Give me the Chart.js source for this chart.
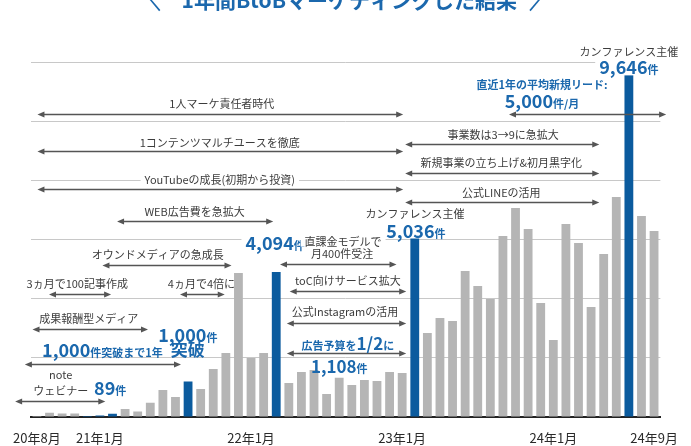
<!DOCTYPE html>
<html><head><meta charset="utf-8">
<script src="https://cdn.jsdelivr.net/npm/chart.js@4.4.1/dist/chart.umd.min.js"></script>
<style>html,body{margin:0;padding:0;background:#fff;}canvas{display:block;}</style>
</head><body>
<canvas id="c" width="691" height="446"></canvas>
<script>
// ---- data ----
const categories = [
 '20年8月','20年9月','20年10月','20年11月','20年12月',
 '21年1月','21年2月','21年3月','21年4月','21年5月','21年6月','21年7月','21年8月','21年9月','21年10月','21年11月','21年12月',
 '22年1月','22年2月','22年3月','22年4月','22年5月','22年6月','22年7月','22年8月','22年9月','22年10月','22年11月','22年12月',
 '23年1月','23年2月','23年3月','23年4月','23年5月','23年6月','23年7月','23年8月','23年9月','23年10月','23年11月','23年12月',
 '24年1月','24年2月','24年3月','24年4月','24年5月','24年6月','24年7月','24年8月','24年9月'
];
const leads = [
 30, 120, 100, 100, 30,
 40, 89, 226, 155, 404, 762, 564, 1000, 790, 1355, 1806, 4064,
 1665, 1806, 4094, 960, 1270, 1327, 650, 1108, 903, 1044, 1016, 1270,
 1242, 5036, 2371, 2794, 2710, 4121, 3697, 3330, 5109, 5899, 5306, 3218,
 2173, 5447, 4911, 3105, 4601, 6209, 9646, 5673, 5250
];
const highlighted = ['20年12月','21年1月','21年2月','21年8月','22年3月','23年2月','24年7月'];
const tickLabels = ['20年8月','21年1月','22年1月','23年1月','24年1月','24年9月'];
const titleText = '1年間BtoBマーケティングした結果';

// annotation arrows: x in category index units, y in lead units
const arrows = [
 {from:0.04, to:29.08, y:8551},
 {from:0.04, to:29.08, y:7515},
 {from:0.04, to:29.08, y:6434},
 {from:6.36, to:18.76, y:5523},
 {from:37.48, to:49.96, y:8551},
 {from:29.24, to:44.65, y:7696},
 {from:29.24, to:44.65, y:6894},
 {from:29.24, to:44.65, y:6059},
 {from:19.30, to:28.55, y:4318},
 {from:20.07, to:29.32, y:3556},
 {from:19.84, to:29.32, y:2661},
 {from:19.84, to:29.32, y:1815},
 {from:5.20, to:15.45, y:4289},
 {from:0.96, to:5.89, y:3471},
 {from:11.36, to:14.91, y:3471},
 {from:-0.35, to:8.82, y:2475},
 {from:-0.96, to:11.44, y:1487},
 {from:-1.73, to:5.43, y:452}
];
// annotation texts
const notes = [
 {x:47, y:10314, runs:[['カンファレンス主催',11]]},
 {x:47, y:9877, runs:[['9,646',18,1],['件',11,1]], blue:1, bg:1},
 {x:40.1, y:9369, runs:[['直近1年の平均新規リード:',11,1]], blue:1},
 {x:40.1, y:8917, runs:[['5,000',18,1],['件/月',11,1]], blue:1},
 {x:14.68, y:8833, runs:[['1人マーケ責任者時代',11]]},
 {x:14.52, y:7741, runs:[['1コンテンツマルチユースを徹底',11]]},
 {x:14.52, y:6702, runs:[['YouTubeの成長(初期から投資)',11]], bg:1},
 {x:12.52, y:5794, runs:[['WEB広告費を急拡大',11]]},
 {x:37.02, y:7958, runs:[['事業数は3→9に急拡大',11]]},
 {x:36.87, y:7159, runs:[['新規事業の立ち上げ&初月黒字化',11]]},
 {x:36.87, y:6330, runs:[['公式LINEの活用',11]]},
 {x:30.01, y:5729, runs:[['カンファレンス主催',11]]},
 {x:30.09, y:5229, runs:[['5,036',18,1],['件',11,1]], blue:1},
 {x:18.91, y:4910, runs:[['4,094',18,1],['件',11,1]], blue:1, bg:1},
 {x:24.31, y:4947, runs:[['直課金モデルで',11]], bg:1},
 {x:24.23, y:4600, runs:[['月400件受注',11]]},
 {x:24.69, y:3838, runs:[['toC向けサービス拡大',11]]},
 {x:24.46, y:2972, runs:[['公式Instagramの活用',11]]},
 {x:24.69, y:2060, runs:[['広告予算を',11,1],['1/2',17,1],['に',11,1]], blue:1},
 {x:24.0, y:1419, runs:[['1,108',17,1],['件',11,1]], blue:1},
 {x:9.59, y:4586, runs:[['オウンドメディアの急成長',11]]},
 {x:3.20, y:3753, runs:[['3ヵ月で100記事作成',11]]},
 {x:13.06, y:3753, runs:[['4ヵ月で4倍に',11]]},
 {x:4.12, y:2757, runs:[['成果報酬型メディア',11]]},
 {x:5.20, y:1891, runs:[['1,000',18,1],['件突破まで1年',11,1]], blue:1},
 {x:11.98, y:2314, runs:[['1,000',18,1],['件',11,1]], blue:1},
 {x:11.98, y:1891, runs:[['突破',17,1]], blue:1},
 {x:1.89, y:1185, runs:[['note',11]]},
 {x:1.89, y:742, runs:[['ウェビナー',11]]},
 {x:5.82, y:818, runs:[['89',18,1],['件',11,1]], blue:1},
 {x:24.8, y:11770, runs:[[titleText,21,1]], blue:1}
];
const strokes = [
 {x1:8.9, y1:11830, x2:9.75, y2:11470},
 {x1:40.0, y1:11830, x2:39.15, y2:11470}
];

// ---- styles ----
const FONT = '"Noto Sans CJK JP", "Noto Sans", sans-serif';
const GRAY = '#b5b5b5', BLUE = '#0b5b9e', BLUE_T = '#1b68ad', DARK = '#3c3c3c', ARROW = '#555555';

function drawRuns(ctx, cx, cy, runs, color, bg) {
  let total = 0; const widths = [];
  let maxS = 0;
  runs.forEach(r => {
    ctx.font = (r[2] ? 'bold ' : '') + r[1] + 'px ' + FONT;
    const w = ctx.measureText(r[0]).width; widths.push(w); total += w;
    maxS = Math.max(maxS, r[1]);
  });
  let x0 = cx - total / 2;
  if (bg) {
    ctx.fillStyle = '#fff';
    ctx.fillRect(x0 - 4, cy - maxS * 0.55, total + 8, maxS * 1.0);
  }
  const base = cy + maxS * 0.37;
  ctx.fillStyle = color; ctx.textAlign = 'left'; ctx.textBaseline = 'alphabetic';
  runs.forEach((r, i) => {
    ctx.font = (r[2] ? 'bold ' : '') + r[1] + 'px ' + FONT;
    ctx.fillText(r[0], x0, base);
    x0 += widths[i];
  });
}
function head(ctx, x, y, dir) {
  ctx.beginPath();
  ctx.moveTo(x, y);
  ctx.lineTo(x - dir * 7, y - 3);
  ctx.lineTo(x - dir * 7, y + 3);
  ctx.closePath(); ctx.fill();
}
const notesPlugin = {
  id: 'notes',
  afterDatasetsDraw(chart) {
    const {ctx} = chart; const xs = chart.scales.x, ys = chart.scales.y;
    ctx.save();
    ctx.strokeStyle = ARROW; ctx.fillStyle = ARROW; ctx.lineWidth = 1.5;
    arrows.forEach(a => {
      const x1 = xs.getPixelForValue(a.from), x2 = xs.getPixelForValue(a.to);
      const y = Math.round(ys.getPixelForValue(a.y)) + 0.5;
      ctx.beginPath(); ctx.moveTo(x1 + 4, y); ctx.lineTo(x2 - 4, y); ctx.stroke();
      head(ctx, x1, y, -1); head(ctx, x2, y, 1);
    });
    ctx.strokeStyle = BLUE_T; ctx.lineWidth = 1.6;
    strokes.forEach(s => {
      ctx.beginPath();
      ctx.moveTo(xs.getPixelForValue(s.x1), ys.getPixelForValue(s.y1));
      ctx.lineTo(xs.getPixelForValue(s.x2), ys.getPixelForValue(s.y2));
      ctx.stroke();
    });
    notes.forEach(n => {
      drawRuns(ctx, xs.getPixelForValue(n.x), ys.getPixelForValue(n.y), n.runs, n.blue ? BLUE_T : DARK, n.bg);
    });
    ctx.restore();
  }
};

new Chart(document.getElementById('c'), {
  type: 'bar',
  data: {
    labels: categories,
    datasets: [{
      data: leads,
      backgroundColor: categories.map(c => highlighted.includes(c) ? BLUE : GRAY),
      borderWidth: 0,
      barPercentage: 0.7,
      categoryPercentage: 1.0
    }]
  },
  options: {
    responsive: false,
    animation: false,
    devicePixelRatio: 1,
    layout: {padding: {left: 23, right: 19, top: 62, bottom: 0}},
    plugins: {legend: {display: false}, tooltip: {enabled: false}, title: {display: false}},
    scales: {
      x: {
        afterFit: s => { s.height = 29; },
        grid: {display: false, drawTicks: false},
        border: {display: true, color: '#222', width: 2},
        ticks: {
          autoSkip: false, maxRotation: 0, minRotation: 0, padding: 13,
          color: '#2a2a2a', font: {family: FONT, size: 13},
          callback: (v, i) => tickLabels.includes(categories[i]) ? categories[i] : ''
        }
      },
      y: {
        min: 0, max: 10020,
        ticks: {display: false, stepSize: 1670},
        grid: {drawTicks: false, lineWidth: 1, color: c => c.tick && c.tick.value === 0 ? 'rgba(0,0,0,0)' : '#c8c8c8'},
        border: {display: false}
      }
    }
  },
  plugins: [notesPlugin]
});
</script>
</body></html>
